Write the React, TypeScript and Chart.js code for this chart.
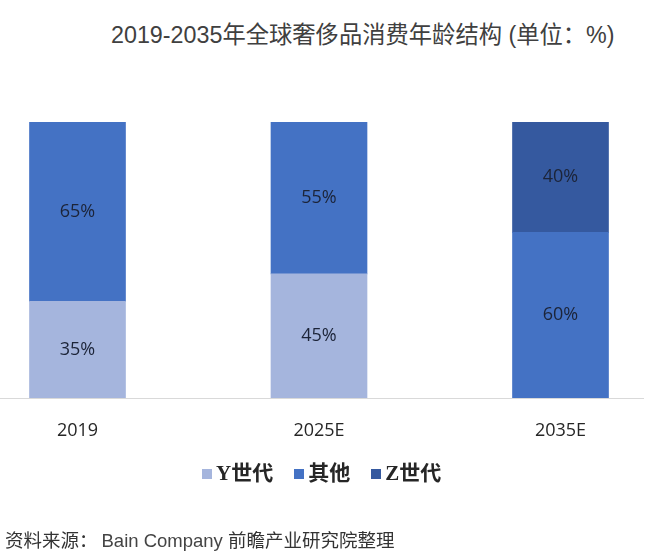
import React, { useEffect, useRef } from "react";
import { Chart, registerables } from "chart.js";

Chart.register(...registerables);

const categories = ["2019", "2025E", "2035E"];
const seriesNames = ["Y世代", "其他", "Z世代"];
const genYValues: (number | null)[] = [35, 45, null];
const otherValues: (number | null)[] = [65, 55, 60];
const genZValues: (number | null)[] = [null, null, 40];
const seriesColors = ["#A5B5DD", "#4472C4", "#35599F"];
const titleText = "2019-2035年全球奢侈品消费年龄结构 (单位：%)";
const sourceLabel = "资料来源：";
const sourceLatin = "Bain Company";
const sourceOrg = "前瞻产业研究院整理";

const toPoints = (vals: (number | null)[]) => vals.map((v, i) => ({ x: i, y: v }));

const segmentLabels = {
  id: "segmentLabels",
  afterDatasetsDraw(chart: any) {
    const ctx = chart.ctx;
    ctx.save();
    ctx.font = '18px "Open Sans"';
    ctx.fillStyle = "#1c2438";
    ctx.textAlign = "center";
    ctx.textBaseline = "middle";
    chart.data.datasets.forEach((ds: any, di: number) => {
      const meta = chart.getDatasetMeta(di);
      meta.data.forEach((el: any, i: number) => {
        const raw = ds.data[i];
        if (!raw || raw.y == null) return;
        const p = el.getProps(["x", "y", "base"], true);
        ctx.fillText(raw.y + "%", p.x, (p.y + p.base) / 2);
      });
    });
    ctx.restore();
  },
};

export default function App() {
  const ref = useRef<HTMLCanvasElement>(null);

  useEffect(() => {
    if (!ref.current) return;
    const seriesData = [genYValues, otherValues, genZValues];
    const chart = new Chart(ref.current, {
      type: "bar",
      data: {
        datasets: seriesNames.map((name, k) => ({
          label: name,
          data: toPoints(seriesData[k]) as any,
          backgroundColor: seriesColors[k],
          borderWidth: 0,
          barThickness: 96,
        })),
      },
      options: {
        responsive: false,
        animation: false,
        devicePixelRatio: 1,
        layout: { padding: { top: 122, bottom: 95, left: 0, right: 17 } },
        plugins: {
          legend: { display: false },
          title: { display: false },
          tooltip: { enabled: false },
        },
        scales: {
          x: {
            type: "linear",
            stacked: true,
            offset: false,
            min: -0.3209,
            max: 2.3416,
            grid: { display: false, drawTicks: false, offset: false },
            border: { display: true, color: "#D9D9D9", width: 1 },
            ticks: {
              padding: 22,
              color: "#262626",
              font: { family: "Open Sans", size: 18 },
              callback: (v: any) => categories[v as number] ?? "",
            },
            afterBuildTicks: (s: any) => {
              s.ticks = categories.map((_, i) => ({ value: i }));
            },
            afterFit: (s: any) => {
              s.height = 60;
            },
          } as any,
          y: {
            display: false,
            stacked: true,
            min: 0,
            max: 100,
          },
        },
      },
      plugins: [segmentLabels],
    });
    return () => chart.destroy();
  }, []);

  const cjk = '"Liberation Sans", "Noto Sans CJK SC", sans-serif';

  return (
    <div
      style={{
        position: "absolute",
        left: 0,
        top: 0,
        width: 660,
        height: 553,
        background: "#ffffff",
        overflow: "hidden",
      }}
    >
      <div
        style={{
          position: "absolute",
          left: 111,
          top: 20,
          fontFamily: cjk,
          fontSize: 23.3,
          lineHeight: "30px",
          color: "#404040",
          whiteSpace: "nowrap",
        }}
      >
        {titleText}
      </div>
      <canvas
        ref={ref}
        width={660}
        height={553}
        style={{ position: "absolute", left: 0, top: 0 }}
      />
      <div
        style={{
          position: "absolute",
          left: 202,
          top: 460,
          height: 27,
          display: "flex",
          alignItems: "center",
          whiteSpace: "nowrap",
        }}
      >
        {seriesNames.map((name, k) => (
          <div key={name} style={{ display: "flex", alignItems: "center", marginRight: 21 }}>
            <span
              style={{
                display: "inline-block",
                width: 10,
                height: 10,
                background: seriesColors[k],
                marginRight: 4,
              }}
            />
            <span
              style={{
                fontFamily: '"Liberation Serif", "Noto Sans CJK SC", serif',
                fontWeight: "bold",
                fontSize: 21,
                lineHeight: "27px",
                color: "#262626",
              }}
            >
              {name}
            </span>
          </div>
        ))}
      </div>
      <div
        style={{
          position: "absolute",
          left: 5,
          top: 529,
          fontFamily: cjk,
          fontSize: 18.5,
          lineHeight: "24px",
          color: "#333333",
          whiteSpace: "nowrap",
        }}
      >
        {sourceLabel}
        <span style={{ color: "#444444", marginLeft: 4 }}>{sourceLatin}</span>{" "}
        {sourceOrg}
      </div>
    </div>
  );
}
